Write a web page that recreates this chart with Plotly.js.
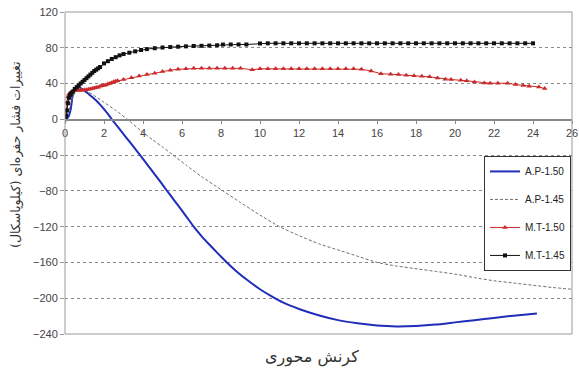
<!DOCTYPE html>
<html><head><meta charset="utf-8">
<script src="https://cdn.plot.ly/plotly-3.0.1.min.js"></script>
<style>html,body{margin:0;padding:0;background:#fff}</style>
</head><body><div id="chart" style="width:579px;height:369px"></div>
<script>
// A.P-1.50 (blue solid)
const ap150X = [0,0.1,0.2,0.3,0.35,0.4,0.45,0.5,0.6,0.7,0.8,1.0,1.2,1.4,1.6,1.8,2.0,2.2,2.4,2.6,2.8,3.0,3.2,3.4,3.6,3.85,4.2,4.6,5.0,5.2,5.6,6.0,6.3,6.6,7.0,7.4,7.8,8.3,8.8,9.4,10.0,10.6,11.2,12.0,13.0,14.0,15.0,16.0,17.0,18.0,19.0,20.0,21.0,22.0,23.0,24.2];
const ap150Y = [0,1,4,12,20,28,33,35,36,36,35,32,28.5,25,21,16.5,11.5,6,0,-5.5,-11,-16.5,-22,-27.5,-33,-40,-50,-61.5,-73,-79,-90.5,-102,-111,-120,-130.5,-140,-149,-160,-170,-180.5,-190,-198,-205,-212,-219,-224.5,-228,-230.5,-231.5,-231,-229.5,-227,-224.5,-222,-219.5,-217];
// A.P-1.45 (grey dashed)
const ap145X = [0,0.2,0.4,0.6,0.8,1.0,1.4,2.0,2.6,3.2,3.85,4.5,5.0,5.55,6.2,7.0,8.1,9.0,10.0,11.0,12.0,13.0,14.0,15.0,16.0,17.0,18.0,19.0,20.0,21.0,22.0,23.0,24.0,25.0,26.0];
const ap145Y = [0,10,25,32,34,33,28,19,10,0,-12,-23,-31,-40,-51,-64,-80,-93,-107,-120,-130,-139,-146,-153,-160,-164,-167,-170,-173,-177,-180.5,-183,-185.5,-188,-190];
// M.T-1.50 (red, triangles)
const mt150X = [0,0.05,0.1,0.15,0.2,0.3,0.4,0.5,0.6,0.7,0.8,0.9,1.0,1.1,1.2,1.3,1.4,1.5,1.6,1.7,1.8,1.9,2.0,2.1,2.2,2.3,2.4,2.5,2.6,2.7,3.0,3.4,3.8,4.2,4.6,5.0,5.4,5.8,6.2,6.6,7.0,7.4,7.8,8.2,8.6,9.0,9.6,10.0,10.4,10.8,11.2,11.6,12.0,12.4,12.8,13.2,13.6,14.0,14.4,14.8,15.2,15.7,16.2,16.7,17.1,17.5,17.9,18.3,18.7,19.1,19.5,19.8,20.3,20.6,21.0,21.5,21.8,22.2,22.7,23.1,23.5,23.8,24.3,24.6];
const mt150Y = [0,10,19,25,28,30,31.5,32,32.5,32.5,32.5,32.5,33,33,33.5,34,34.5,35,35.5,36,37,37.5,38,38.5,39.5,40,41,42,42.5,43,44.5,46.5,48.5,50,51.5,53.5,55,56,56.5,57,57,57,57,57,57,57,55.5,56.5,56.5,56.5,56.5,56.5,56.5,56.5,56.5,56.5,56.5,56.5,56.5,56.5,56,54,51,50.5,50,49.3,48.6,48.2,47.5,46.3,44.8,44.5,43.7,43,41.8,40.7,40.4,40.4,40.4,38.9,37.8,37,36.2,34.4];
// M.T-1.45 (black, squares)
const mt145X = [0,0.05,0.1,0.15,0.2,0.25,0.3,0.4,0.5,0.6,0.7,0.8,0.9,1.0,1.1,1.2,1.3,1.4,1.5,1.6,1.7,1.8,2.0,2.2,2.4,2.6,2.8,3.0,3.3,3.6,3.9,4.2,4.6,5.0,5.4,5.8,6.2,6.6,7.0,7.4,7.8,8.1,8.5,8.9,9.3,10.0,10.4,10.8,11.2,11.6,12.0,12.4,12.8,13.2,13.6,14.0,14.4,14.8,15.2,15.6,16.0,16.4,16.8,17.2,17.6,18.0,18.4,18.8,19.2,19.6,20.0,20.4,20.8,21.2,21.6,22.0,22.4,22.8,23.2,23.6,24.0];
const mt145Y = [0,4,10,18,24,27,29,31,34,36,38,40,42,44,46,48,50,52,54,55.5,57,58.5,62.5,65,67.5,69.5,71.5,73,74.5,76,77.5,78.5,79.5,80.3,80.8,81.2,81.6,82,82.2,82.5,82.8,83.6,83.7,83.7,83.7,84.8,85,85,85,85,85,85,85,85,85,85,85,85,85,85,85,85,85,85,85,85,85,85,85,85,85,85,85,85,85,85,85,85,85,85,85];

const xTicks = [0,2,4,6,8,10,12,14,16,18,20,22,24,26];
const yTicks = [120,80,40,0,-40,-80,-120,-160,-200,-240];
const seriesNames = ['A.P-1.50','A.P-1.45','M.T-1.50','M.T-1.45'];
const xTitle = 'کرنش محوری';
const yTitle = 'تغییرات فشار حفره‌ای (کیلوپاسکال)';

const tickFont = {family:'Arial, Liberation Sans', size:11, color:'#444'};
const traces = [
  {x:ap150X, y:ap150Y, name:seriesNames[0], legendgroup:'a', mode:'lines', line:{color:'#1f2db8', width:2, shape:'spline', smoothing:0.5}},
  {x:ap145X, y:ap145Y, name:seriesNames[1], legendgroup:'b', mode:'lines', line:{color:'#6e6e6e', width:1, dash:'3px,2px', shape:'spline', smoothing:0.5}},
  {x:mt150X, y:mt150Y, name:seriesNames[2], legendgroup:'c', mode:'lines+markers', line:{color:'#cc2a2a', width:1}, marker:{symbol:'triangle-up', size:5, color:'#cc2a2a'}},
  {x:mt145X, y:mt145Y, name:seriesNames[3], legendgroup:'d', mode:'lines+markers', line:{color:'#111', width:1}, marker:{symbol:'square', size:4, color:'#111'}}
];
const layout = {
  width:579, height:369,
  margin:{l:65, r:7, t:12, b:35},
  paper_bgcolor:'#fff', plot_bgcolor:'#fff',
  showlegend:true,
  xaxis:{range:[0,26], tickvals:xTicks, anchor:'free', position:240/360, showline:true, linecolor:'#888', linewidth:1.5,
         ticks:'outside', ticklen:3, tickcolor:'#888', showgrid:false, zeroline:false, tickfont:tickFont, fixedrange:true},
  xaxis2:{range:[0,26], tickvals:xTicks, overlaying:'x', anchor:'free', position:240/360, showline:false,
         ticks:'inside', ticklen:4, tickcolor:'#888', showgrid:false, zeroline:false, showticklabels:false},
  yaxis:{range:[-240,120], tickvals:yTicks, ticks:'outside', ticklen:4, tickcolor:'#999', showline:false,
         showgrid:true, gridcolor:'#8a8a8a', griddash:'dot', gridwidth:1, zeroline:false, tickfont:tickFont},
  legend:{x:0.998, xanchor:'right', y:0.553, yanchor:'top', bordercolor:'#333', borderwidth:1, bgcolor:'#fff',
          font:{family:'Arial, Liberation Sans', size:10, color:'#222'}, tracegroupgap:9},
  shapes:[{type:'rect', xref:'x domain', yref:'y domain', x0:0, x1:1, y0:0, y1:1, line:{color:'#9a9a9a', width:1}, layer:'above'}],
  annotations:[
    {text:xTitle, xref:'paper', yref:'paper', x:(312-65)/507, y:1-(357-12)/322, xanchor:'center', yanchor:'middle', showarrow:false,
     font:{family:'DejaVu Sans', size:16, color:'#333'}},
    {text:yTitle, xref:'paper', yref:'paper', x:(16-65)/507, y:1-(155-12)/322, xanchor:'center', yanchor:'middle', showarrow:false, textangle:-90,
     font:{family:'DejaVu Sans', size:12.5, color:'#333'}}
  ]
};
Plotly.newPlot('chart', traces, layout, {displayModeBar:false, staticPlot:true});
</script>
</body></html>
